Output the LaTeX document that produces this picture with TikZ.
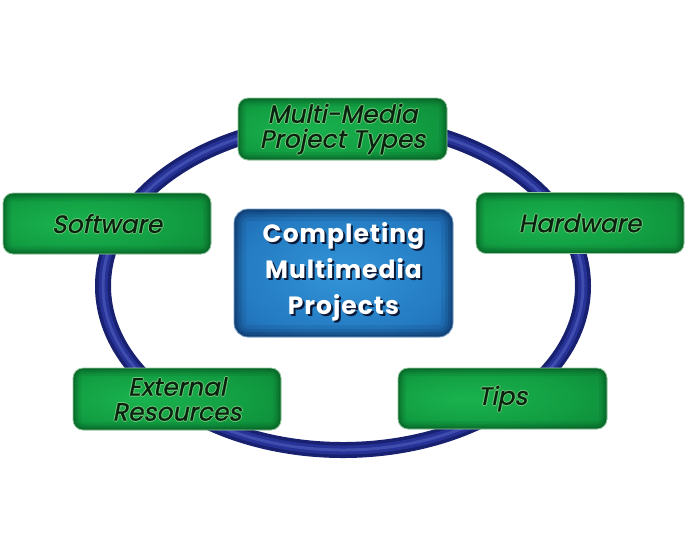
\documentclass[tikz,border=0pt]{standalone}
\usepackage{fontspec}
\setmainfont{Poppins}
\newfontfamily\gfont[FakeSlant=0.2,FakeBold=0.6]{Poppins}
\newfontfamily\cfont[LetterSpace=4]{Poppins}
\definecolor{ringdark}{RGB}{24,32,112}
\definecolor{ringmid}{RGB}{38,50,150}
\definecolor{ringlite}{RGB}{80,96,190}
\definecolor{gtext}{RGB}{10,34,16}
\definecolor{glowc}{RGB}{110,200,120}
\definecolor{gedge}{RGB}{6,70,26}
\definecolor{gborder}{RGB}{150,200,160}
\definecolor{bedge}{RGB}{8,30,70}
\definecolor{bborder}{RGB}{120,160,200}
\definecolor{shadowc}{RGB}{10,25,55}
\pgfdeclareradialshading{gshade}{\pgfpoint{-10bp}{0bp}}{rgb(0bp)=(0.10,0.70,0.31); rgb(22bp)=(0.07,0.62,0.26); rgb(50bp)=(0.04,0.48,0.19)}
\pgfdeclareradialshading{bshade}{\pgfpoint{0bp}{0bp}}{rgb(0bp)=(0.20,0.58,0.84); rgb(25bp)=(0.14,0.48,0.76); rgb(50bp)=(0.07,0.28,0.54)}
\newcommand\glowtxt[1]{\rlap{\hspace{-1pt}\textcolor{glowc}{#1}}\rlap{\hspace{1pt}\textcolor{glowc}{#1}}\rlap{\raisebox{1pt}{\textcolor{glowc}{#1}}}\rlap{\raisebox{-1pt}{\textcolor{glowc}{#1}}}#1}
\newcommand\shtxt[1]{\rlap{\hspace{2pt}\raisebox{-2pt}{\textcolor{shadowc}{#1}}}#1}
\tikzset{
  gbox/.style={rounded corners=10pt, minimum width=208pt, minimum height=61pt, inner sep=0pt,
    shading=gshade, draw=gborder, line width=0.8pt, align=center, text=gtext,
    font=\gfont\fontsize{25}{25}\selectfont,
    path picture={
      \foreach \w/\o in {16/0.10,11/0.14,7/0.18,3.5/0.25}
        \draw[line width=\w pt, draw=gedge, opacity=\o, rounded corners=10pt]
          (path picture bounding box.south west) rectangle (path picture bounding box.north east);
    }},
  cbox/.style={rounded corners=14pt, minimum width=219pt, minimum height=128pt, inner sep=0pt,
    shading=bshade, draw=bborder, line width=0.8pt, align=center, text=white,
    font=\cfont\bfseries\fontsize{25}{36}\selectfont,
    path picture={
      \foreach \w/\o in {24/0.10,16/0.14,10/0.18,5/0.25}
        \draw[line width=\w pt, draw=bedge, opacity=\o, rounded corners=14pt]
          (path picture bounding box.south west) rectangle (path picture bounding box.north east);
    }},
}
\begin{document}
\begin{tikzpicture}[x=1pt,y=-1pt]
\fill[white] (0,0) rectangle (690,550);
\useasboundingbox (0,0) rectangle (690,550);
% ring
\coordinate (rc) at (343,286);
\draw[line width=16pt, ringdark] (rc) ellipse [x radius=240pt, y radius=164pt];
\draw[line width=9pt, ringmid] (rc) ellipse [x radius=240pt, y radius=164pt];
\draw[line width=3pt, ringlite, opacity=0.6] (rc) ellipse [x radius=240pt, y radius=164pt];
% boxes
\node[gbox, minimum width=209pt, minimum height=62pt] (mm) at (342.5,129) {\glowtxt{Multi-Media}\\\glowtxt{Project Types}};
\node[gbox] (sw) at (107,223.5) {\glowtxt{Software}};
\node[gbox] (hw) at (580,223) {\glowtxt{Hardware}};
\node[gbox, minimum height=62pt] (er) at (177,399) {\glowtxt{External}\\\glowtxt{Resources}};
\node[gbox, minimum width=209pt] (tp) at (502.5,398.5) {\glowtxt{Tips}};
\node[cbox] (ctr) at (343.5,273) {\shtxt{Completing}\\\shtxt{Multimedia}\\\shtxt{Projects}};
\end{tikzpicture}
\end{document}
